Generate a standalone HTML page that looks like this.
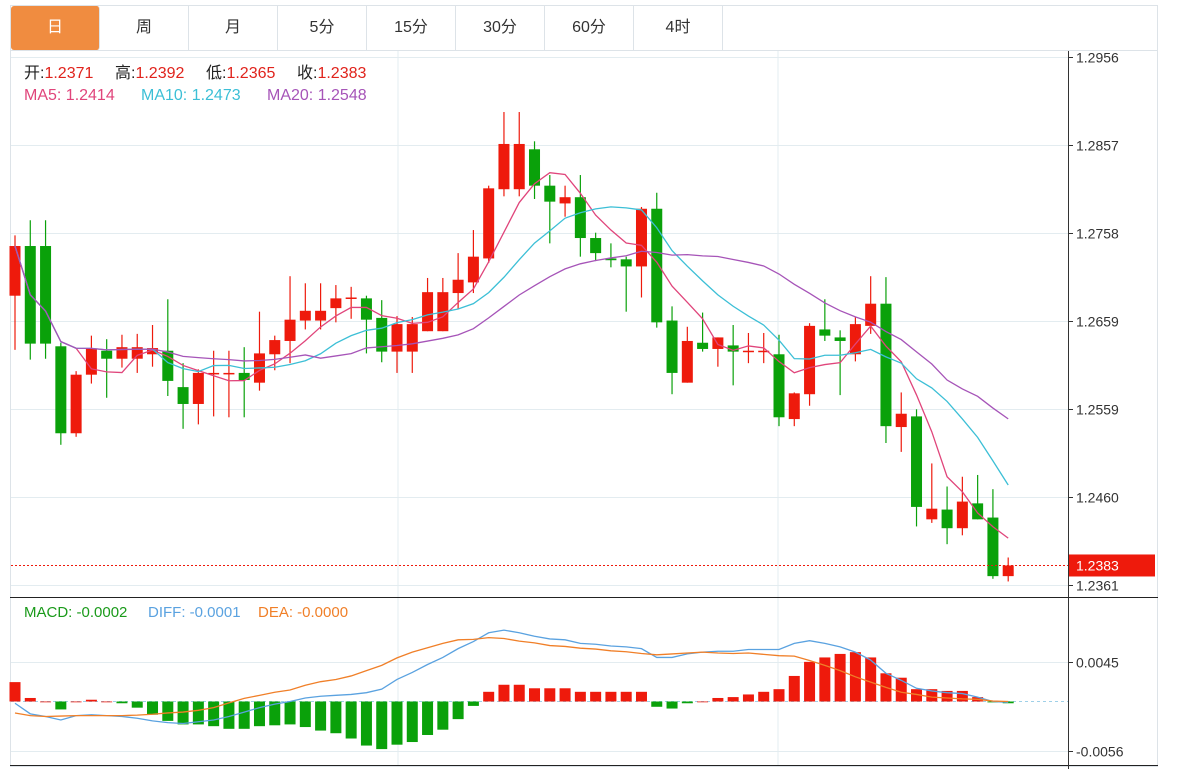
<!DOCTYPE html>
<html><head><meta charset="utf-8">
<style>
body{margin:0;background:#fff;width:1180px;height:769px;overflow:hidden;font-family:"Liberation Sans","Noto Sans CJK SC",sans-serif;}
#tabs{position:absolute;left:10px;top:5px;width:1148px;height:45px;border:1px solid #dde3e8;border-bottom:none;box-sizing:border-box;display:flex;}
.tab{width:89px;height:44px;line-height:44px;text-align:center;font-size:16px;color:#333;border-right:1px solid #dde3e8;box-sizing:border-box;}
.tab.active{background:#f08c40;color:#fff;border-radius:3px;}
svg{position:absolute;left:0;top:0;}
</style></head><body>
<div id="tabs">
<div class="tab active">日</div>
<div class="tab">周</div>
<div class="tab">月</div>
<div class="tab">5分</div>
<div class="tab">15分</div>
<div class="tab">30分</div>
<div class="tab">60分</div>
<div class="tab">4时</div>
</div>
<svg id="chart" width="1180" height="769"></svg>
<script>
const opens=[1.2687,1.2743,1.2743,1.2630,1.2532,1.2598,1.2625,1.2616,1.2616,1.2621,1.2625,1.2584,1.2565,1.2599,1.2599,1.2600,1.2589,1.2621,1.2636,1.2659,1.2659,1.2673,1.2684,1.2684,1.2662,1.2624,1.2624,1.2647,1.2647,1.2690,1.2702,1.2729,1.2807,1.2807,1.2852,1.2811,1.2791,1.2798,1.2752,1.2729,1.2728,1.2720,1.2785,1.2659,1.2589,1.2634,1.2627,1.2631,1.2624,1.2624,1.2621,1.2548,1.2576,1.2649,1.2640,1.2621,1.2653,1.2678,1.2539,1.2551,1.2435,1.2446,1.2425,1.2453,1.2437,1.2371];
const highs=[1.2755,1.2772,1.2772,1.2634,1.2602,1.2642,1.2638,1.2643,1.2644,1.2654,1.2683,1.2611,1.2604,1.2625,1.2625,1.2629,1.2669,1.2642,1.2709,1.2701,1.2701,1.2699,1.2697,1.2687,1.2682,1.2664,1.2663,1.2707,1.2707,1.2735,1.2761,1.2811,1.2894,1.2894,1.2861,1.2823,1.2811,1.2823,1.2758,1.2746,1.2731,1.2787,1.2803,1.2675,1.2652,1.2668,1.2640,1.2654,1.2645,1.2645,1.2643,1.2578,1.2656,1.2683,1.2648,1.2663,1.2709,1.2708,1.2578,1.2559,1.2498,1.2472,1.2483,1.2485,1.2469,1.2392];
const lows=[1.2626,1.2615,1.2616,1.2519,1.2528,1.2588,1.2572,1.2606,1.2600,1.2607,1.2574,1.2537,1.2542,1.2551,1.2550,1.2550,1.2580,1.2603,1.2611,1.2649,1.2649,1.2657,1.2661,1.2622,1.2612,1.2600,1.2600,1.2647,1.2647,1.2672,1.2690,1.2724,1.2799,1.2799,1.2796,1.2746,1.2776,1.2731,1.2726,1.2719,1.2669,1.2685,1.2651,1.2576,1.2589,1.2624,1.2607,1.2586,1.2611,1.2611,1.2540,1.2540,1.2563,1.2636,1.2575,1.2613,1.2644,1.2521,1.2511,1.2427,1.2431,1.2407,1.2417,1.2435,1.2368,1.2365];
const closes=[1.2743,1.2633,1.2633,1.2532,1.2598,1.2627,1.2616,1.2629,1.2629,1.2628,1.2591,1.2565,1.2600,1.2600,1.2600,1.2592,1.2622,1.2637,1.2660,1.2670,1.2670,1.2684,1.2685,1.2660,1.2624,1.2655,1.2655,1.2691,1.2691,1.2705,1.2731,1.2808,1.2858,1.2858,1.2811,1.2793,1.2798,1.2752,1.2735,1.2727,1.2720,1.2785,1.2657,1.2600,1.2636,1.2627,1.2640,1.2624,1.2625,1.2625,1.2550,1.2577,1.2653,1.2642,1.2636,1.2655,1.2678,1.2540,1.2554,1.2449,1.2447,1.2425,1.2455,1.2435,1.2371,1.2383];
const macdHist=[0.0022,0.0004,0.0000,-0.0009,0.0000,0.0002,0.0000,-0.0002,-0.0007,-0.0015,-0.0022,-0.0026,-0.0026,-0.0028,-0.0031,-0.0031,-0.0028,-0.0027,-0.0026,-0.0029,-0.0033,-0.0036,-0.0042,-0.0050,-0.0054,-0.0049,-0.0046,-0.0038,-0.0032,-0.0020,-0.0005,0.0011,0.0019,0.0019,0.0015,0.0015,0.0015,0.0011,0.0011,0.0011,0.0011,0.0011,-0.0006,-0.0008,-0.0002,0.0000,0.0004,0.0005,0.0008,0.0011,0.0014,0.0029,0.0045,0.0050,0.0054,0.0056,0.0050,0.0032,0.0027,0.0014,0.0014,0.0012,0.0012,0.0005,-0.0001,-0.0002];
const diffVals=[-0.0002,-0.0014,-0.0017,-0.0021,-0.0016,-0.0015,-0.0016,-0.0017,-0.0019,-0.0022,-0.0024,-0.0025,-0.0023,-0.0021,-0.0017,-0.0012,-0.0007,-0.0003,0.0000,0.0004,0.0006,0.0007,0.0008,0.0010,0.0014,0.0025,0.0033,0.0042,0.0050,0.0060,0.0068,0.0078,0.0081,0.0078,0.0074,0.0071,0.0070,0.0066,0.0065,0.0063,0.0062,0.0060,0.0050,0.0050,0.0054,0.0056,0.0057,0.0057,0.0059,0.0059,0.0059,0.0066,0.0069,0.0066,0.0062,0.0056,0.0047,0.0032,0.0024,0.0015,0.0012,0.0010,0.0009,0.0005,0.0000,-0.0001];
const priceTicks=["1.2956","1.2857","1.2758","1.2659","1.2559","1.2460","1.2361"];
const macdTicks=["0.0045","-0.0056"];
const lastPrice=1.2383;

const NS="http://www.w3.org/2000/svg";
const svg=document.getElementById('chart');
function mk(tag,attrs,parent){const e=document.createElementNS(NS,tag);for(const k in attrs)e.setAttribute(k,attrs[k]);(parent||svg).appendChild(e);return e;}
const RED="#ee1a0c",GREEN="#0aa10a";
const xL=11,xR=1068;
const xOf=i=>15+i*15.28;
const yP=p=>57+(1.2956-p)*8874;
const yM=v=>701.5-v*8812;

let fr=mk('rect',{x:10.5,y:50.5,width:1147,height:716,fill:'none',stroke:'#dde3e8'});


[398,778].forEach(x=>{let g=mk('line',{x1:x,y1:51,x2:x,y2:766,stroke:'#e3ecf0'});

});
priceTicks.forEach(t=>{const y=Math.round(yP(parseFloat(t)))+0.5;
let g=mk('line',{x1:xL,y1:y,x2:xR,y2:y,stroke:'#e3ecf0'});


mk('line',{x1:xR,y1:y,x2:xR+5,y2:y,stroke:'#333'});
let tx=mk('text',{x:1076,y:y+5,'font-size':14,fill:'#333'});tx.textContent=t;

});
macdTicks.forEach(t=>{const y=Math.round(yM(parseFloat(t)))+0.5;
let g=mk('line',{x1:xL,y1:y,x2:xR,y2:y,stroke:'#e3ecf0'});


mk('line',{x1:xR,y1:y,x2:xR+5,y2:y,stroke:'#333'});
let tx=mk('text',{x:1076,y:y+5,'font-size':14,fill:'#333'});tx.textContent=t;

});
mk('line',{x1:10,y1:597.5,x2:1158,y2:597.5,stroke:'#222'});
mk('line',{x1:10,y1:765.5,x2:1158,y2:765.5,stroke:'#222'});
let ax=mk('line',{x1:1068.5,y1:51,x2:1068.5,y2:769,stroke:'#333'});



for(let i=0;i<closes.length;i++){
  const up=closes[i]>=opens[i];const c=up?RED:GREEN;const x=xOf(i);
  const g=mk('g',{});
  
  
  mk('line',{x1:x,y1:yP(highs[i]),x2:x,y2:yP(lows[i]),stroke:c,'stroke-width':1.2},g);
  const y1=yP(Math.max(opens[i],closes[i])),y2=yP(Math.min(opens[i],closes[i]));
  mk('rect',{x:x-5.5,y:y1,width:11,height:Math.max(1.5,y2-y1),fill:c},g);
}
function ma(n){return closes.map((_,i)=>{const s=Math.max(0,i-n+1);let t=0;for(let j=s;j<=i;j++)t+=closes[j];return t/(i-s+1);});}
[[5,'#e0457b','ma5-line'],[10,'#3cbfd6','ma10-line'],[20,'#a654b8','ma20-line']].forEach(([n,c,name])=>{
  const v=ma(n);const p=mk('polyline',{points:v.map((y,i)=>xOf(i)+','+yP(y)).join(' '),fill:'none',stroke:c,'stroke-width':1.3});
  
  
});
const ly=yP(lastPrice);
let dl=mk('line',{x1:xL,y1:ly,x2:xR,y2:ly,stroke:RED,'stroke-width':1,'stroke-dasharray':'2,2'});


let lb=mk('rect',{x:1069,y:ly-11,width:86,height:22,fill:'#ee1a0c'});


let lt=mk('text',{x:1076,y:ly+5,'font-size':14,fill:'#fff'});lt.textContent=lastPrice.toFixed(4);

const y0=yM(0);
mk('line',{x1:xL,y1:y0,x2:xR,y2:y0,stroke:'#9fd0e8','stroke-dasharray':'3,3'});
macdHist.forEach((v,i)=>{const x=xOf(i);const y=yM(v);
  const r=mk('rect',{x:x-5.5,y:Math.min(y,y0),width:11,height:Math.max(0.8,Math.abs(y-y0)),fill:v>=0?RED:GREEN});
  
  });
const deaVals=diffVals.map((d,i)=>d-macdHist[i]/2);
let pd=mk('polyline',{points:diffVals.map((v,i)=>xOf(i)+','+yM(v)).join(' '),fill:'none',stroke:'#5aa2e0','stroke-width':1.3});


let pe=mk('polyline',{points:deaVals.map((v,i)=>xOf(i)+','+yM(v)).join(' '),fill:'none',stroke:'#f07f28','stroke-width':1.3});


</script>
<svg width="1180" height="769" style="pointer-events:none">
<g font-size="16">
<text x="24" y="78"><tspan fill="#222">开:</tspan><tspan fill="#e0231c">1.2371</tspan></text>
<text x="115" y="78"><tspan fill="#222">高:</tspan><tspan fill="#e0231c">1.2392</tspan></text>
<text x="206" y="78"><tspan fill="#222">低:</tspan><tspan fill="#e0231c">1.2365</tspan></text>
<text x="297" y="78"><tspan fill="#222">收:</tspan><tspan fill="#e0231c">1.2383</tspan></text>
</g>
<g font-size="16">
<text x="24" y="100" fill="#e0457b">MA5: 1.2414</text>
<text x="141" y="100" fill="#3cbfd6">MA10: 1.2473</text>
<text x="267" y="100" fill="#a654b8">MA20: 1.2548</text>
</g>
<g font-size="15">
<text x="24" y="617" fill="#1a9a1a">MACD: -0.0002</text>
<text x="148" y="617" fill="#5aa2e0">DIFF: -0.0001</text>
<text x="258" y="617" fill="#f07f28">DEA: -0.0000</text>
</g>
</svg>
</body></html>
